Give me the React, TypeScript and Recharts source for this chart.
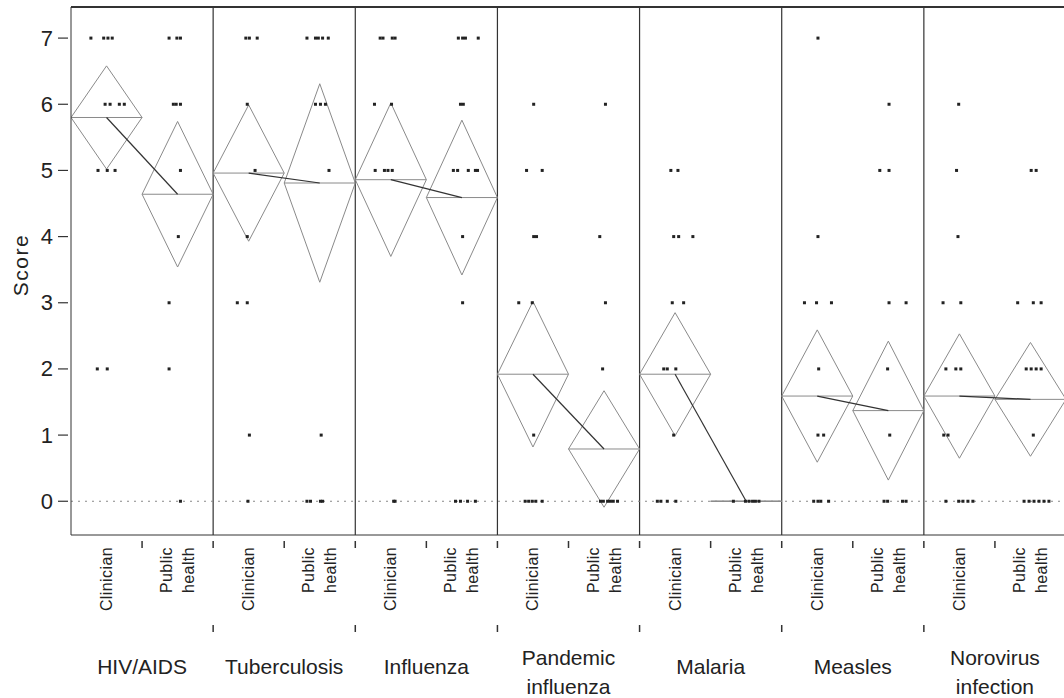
import React from 'react';
import { ComposedChart, Scatter, Line, XAxis, YAxis, ReferenceLine } from 'recharts';

const DISEASES = [['HIV/AIDS'], ['Tuberculosis'], ['Influenza'], ['Pandemic', 'influenza'], ['Malaria'], ['Measles'], ['Norovirus', 'infection']];
const ROLES = [['Clinician'], ['Public', 'health']];

const Y_TICKS = [0, 1, 2, 3, 4, 5, 6, 7];
const Y_MIN = -0.51;
const Y_MAX = 7.47;

// group means and diamond half-heights (95% CI), one entry per disease
const clinicianMeans = [5.8, 4.96, 4.86, 1.92, 1.92, 1.59, 1.59];
const clinicianCI = [0.78, 1.03, 1.16, 1.1, 0.93, 1.0, 0.94];
const publicHealthMeans = [4.64, 4.81, 4.59, 0.79, 0.0, 1.37, 1.54];
const publicHealthCI = [1.1, 1.5, 1.17, 0.88, 0.0, 1.05, 0.86];

// individual responses: [score, horizontal jitter inside the group]
const hivClinician = [[7, -0.22], [7, -0.04], [7, 0.02], [7, 0.08], [6, -0.02], [6, 0.05], [6, 0.18], [6, 0.25], [5, -0.12], [5, 0.01], [5, 0.12], [2, -0.13], [2, 0.01]];
const hivPublic = [[7, -0.12], [7, -0.01], [7, 0.04], [6, -0.06], [6, -0.02], [6, 0.04], [5, 0.04], [4, 0.01], [3, -0.12], [2, -0.12], [0, 0.04]];
const tbClinician = [[7, -0.04], [7, 0.01], [7, 0.12], [6, -0.02], [5, 0.09], [4, -0.02], [3, -0.16], [3, -0.02], [1, 0.01], [0, -0.01]];
const tbPublic = [[7, -0.18], [7, -0.06], [7, -0.02], [7, 0.04], [7, 0.12], [6, -0.06], [6, 0.01], [6, 0.08], [5, 0.13], [1, 0.02], [0, -0.18], [0, -0.13], [0, 0.01], [0, 0.04]];
const fluClinician = [[7, -0.15], [7, -0.11], [7, 0.02], [7, 0.06], [6, -0.23], [6, 0.01], [5, -0.22], [5, -0.09], [5, -0.04], [5, 0.02], [0, 0.04], [0, 0.06]];
const fluPublic = [[7, -0.05], [7, 0.01], [7, 0.05], [7, 0.23], [6, -0.02], [6, 0.02], [5, -0.12], [5, -0.06], [5, 0.09], [5, 0.19], [5, 0.22], [4, 0.01], [3, 0.01], [0, -0.09], [0, -0.02], [0, 0.08], [0, 0.19]];
const pandemicClinician = [[6, 0.01], [5, -0.09], [5, 0.13], [4, 0.01], [4, 0.05], [3, -0.2], [3, -0.01], [1, 0.01], [0, -0.11], [0, -0.06], [0, -0.01], [0, 0.04], [0, 0.13]];
const pandemicPublic = [[6, 0.02], [4, -0.06], [3, 0.02], [2, -0.02], [0, -0.05], [0, -0.01], [0, 0.05], [0, 0.09], [0, 0.13], [0, 0.19]];
const malariaClinician = [[5, -0.06], [5, 0.04], [4, -0.02], [4, 0.05], [4, 0.25], [3, -0.04], [3, 0.12], [2, -0.16], [2, -0.11], [2, 0.01], [1, -0.02], [0, -0.25], [0, -0.2], [0, -0.11], [0, 0.01]];
const malariaPublic = [[0, -0.18], [0, -0.01], [0, 0.04], [0, 0.09], [0, 0.13], [0, 0.18]];
const measlesClinician = [[7, 0.01], [4, 0.01], [3, -0.18], [3, -0.01], [3, 0.2], [2, 0.02], [1, 0.01], [1, 0.09], [0, -0.05], [0, 0.01], [0, 0.05], [0, 0.16]];
const measlesPublic = [[6, 0.01], [5, -0.12], [5, 0.01], [3, 0.01], [3, 0.25], [2, -0.01], [1, 0.02], [0, -0.06], [0, -0.01], [0, 0.2], [0, 0.25]];
const noroClinician = [[6, -0.01], [5, -0.04], [4, -0.02], [3, -0.23], [3, 0.02], [2, -0.19], [2, -0.05], [2, 0.02], [1, -0.22], [1, -0.16], [0, -0.19], [0, -0.01], [0, 0.05], [0, 0.12], [0, 0.19]];
const noroPublic = [[5, 0.01], [5, 0.08], [3, -0.18], [3, 0.04], [3, 0.15], [2, -0.06], [2, 0.01], [2, 0.08], [2, 0.15], [1, 0.04], [0, -0.09], [0, -0.02], [0, 0.05], [0, 0.12], [0, 0.19], [0, 0.26]];

const GROUP_POINTS = [
  hivClinician, hivPublic, tbClinician, tbPublic, fluClinician, fluPublic,
  pandemicClinician, pandemicPublic, malariaClinician, malariaPublic,
  measlesClinician, measlesPublic, noroClinician, noroPublic,
];

const FONT = '"Liberation Sans", Arial, sans-serif';
const INK = '#222';

const pointData = GROUP_POINTS.flatMap((pts, g) => pts.map(([score, jit]) => ({ x: g + 0.5 + jit, y: score })));

const diamonds = GROUP_POINTS.map((_, g) => {
  const d = Math.floor(g / 2);
  const mean = g % 2 === 0 ? clinicianMeans[d] : publicHealthMeans[d];
  const ci = g % 2 === 0 ? clinicianCI[d] : publicHealthCI[d];
  // left, top, right, bottom, back to left, then across the mean
  return [
    { x: g, y: mean }, { x: g + 0.5, y: mean + ci }, { x: g + 1, y: mean },
    { x: g + 0.5, y: mean - ci }, { x: g, y: mean }, { x: g + 1, y: mean },
  ];
});

const connectors = DISEASES.map((_, d) => [
  { x: 2 * d + 0.5, y: clinicianMeans[d] },
  { x: 2 * d + 1.5, y: publicHealthMeans[d] },
]);

const groupTicks = Array.from({ length: 27 }, (_, i) => (i + 1) / 2);
const diseaseTicks = Array.from({ length: 13 }, (_, i) => i + 1);

const Dot = (props: any) => {
  const { cx, cy } = props;
  if (cx == null || cy == null) return null;
  return <rect x={cx - 1.5} y={cy - 1.5} width={3} height={3} fill={INK} />;
};

const YTick = (props: any) => {
  const { x, y, payload } = props;
  return (
    <g>
      <line x1={x - 13} x2={x - 3} y1={y} y2={y} stroke="#333" strokeWidth={1.2} />
      <text x={x - 18} y={y} textAnchor="end" dominantBaseline="central" fontSize={22} fontFamily={FONT} fill={INK}>
        {payload.value}
      </text>
    </g>
  );
};

const GroupTick = (props: any) => {
  const { x, y, payload } = props;
  const v = payload.value;
  if (Number.isInteger(v)) {
    return <line x1={x} x2={x} y1={y + 6} y2={y + 13} stroke="#333" strokeWidth={1.5} />;
  }
  const lines = ROLES[Math.round(v - 0.5) % 2];
  const top = y + 12;
  const offs = lines.length === 1 ? [0] : [-11, 11];
  return (
    <g>
      {lines.map((t, i) => (
        <text key={t} x={x + offs[i]} y={top} transform={`rotate(-90, ${x + offs[i]}, ${top})`}
          textAnchor="end" dominantBaseline="central" fontSize={16} letterSpacing={0.4}
          fontFamily={FONT} fill={INK}>
          {t}
        </text>
      ))}
    </g>
  );
};

const DiseaseTick = (props: any) => {
  const { x, y, payload } = props;
  const v = payload.value;
  if (v % 2 === 0) {
    return <line x1={x} x2={x} y1={y} y2={y + 7} stroke="#333" strokeWidth={1.5} />;
  }
  const lines = DISEASES[(v - 1) / 2];
  const ys = lines.length === 1 ? [41] : [32, 61];
  return (
    <g>
      {lines.map((t, i) => (
        <text key={t} x={x} y={y + ys[i]} textAnchor="middle" dominantBaseline="central"
          fontSize={21} fontFamily={FONT} fill={INK}>
          {t}
        </text>
      ))}
    </g>
  );
};

const ScoreLabel = (props: any) => {
  const { viewBox } = props;
  const cy = viewBox.y + viewBox.height / 2 - 6;
  return (
    <text x={20} y={cy} transform={`rotate(-90, 20, ${cy})`} textAnchor="middle" dominantBaseline="central"
      fontSize={21} letterSpacing={1.5} fontFamily={FONT} fill={INK}>
      Score
    </text>
  );
};

export default function App() {
  return (
    <div style={{ position: 'absolute', left: 0, top: 0, width: 1064, height: 698, overflow: 'hidden', background: '#fff' }}>
      <ComposedChart width={1066} height={698} margin={{ top: 7, right: 0, bottom: 0, left: 0 }}>
        <XAxis xAxisId="b" type="number" dataKey="x" domain={[0, 14]} allowDataOverflow
          ticks={diseaseTicks} interval={0} tickSize={0} tickMargin={0} tickLine={false}
          tick={<DiseaseTick />} height={73} axisLine={false} />
        <XAxis xAxisId="a" type="number" dataKey="x" domain={[0, 14]} allowDataOverflow
          ticks={groupTicks} interval={0} tickSize={0} tickMargin={0} tickLine={false}
          tick={<GroupTick />} height={90} axisLine={{ stroke: '#333' }} />
        <YAxis type="number" dataKey="y" domain={[Y_MIN, Y_MAX]} allowDataOverflow ticks={Y_TICKS}
          interval={0} tickSize={0} tickMargin={0} tickLine={false} tick={<YTick />} width={71}
          axisLine={{ stroke: '#333' }} label={<ScoreLabel />} />

        <ReferenceLine xAxisId="a" y={Y_MAX} stroke="#333" strokeWidth={2} />
        {[2, 4, 6, 8, 10, 12].map((b) => (
          <ReferenceLine key={b} xAxisId="a" x={b} stroke="#333" strokeWidth={1.2} />
        ))}
        <ReferenceLine xAxisId="a" y={0} stroke="#888" strokeDasharray="2 5" />

        {diamonds.map((d, g) => (
          <Line key={`dia-${g}`} xAxisId="a" data={d} dataKey="y" type="linear" stroke="#8a8a8a"
            strokeWidth={1} dot={false} activeDot={false} isAnimationActive={false} />
        ))}
        {connectors.map((d, i) => (
          <Line key={`con-${i}`} xAxisId="a" data={d} dataKey="y" type="linear" stroke="#333"
            strokeWidth={1.2} dot={false} activeDot={false} isAnimationActive={false} />
        ))}
        <Scatter xAxisId="a" data={pointData} dataKey="y" shape={<Dot />} isAnimationActive={false} />
      </ComposedChart>
    </div>
  );
}
